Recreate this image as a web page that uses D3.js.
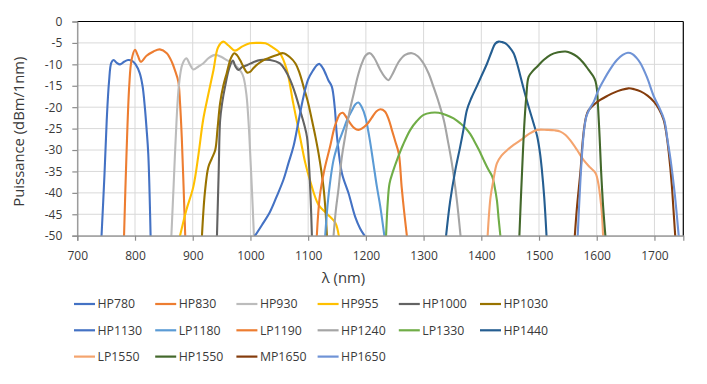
<!DOCTYPE html>
<html><head><meta charset="utf-8">
<script src="https://cdn.jsdelivr.net/npm/d3@7"></script>
<style>
html,body{margin:0;padding:0;background:#fff;}
svg text{font-family:"Segoe UI","Open Sans","Noto Sans",sans-serif;fill:#3A3A3A;}
</style></head>
<body><svg id="chart" width="707" height="384"></svg>
<script>
// ---- data (wavelength nm, power dBm/1nm) ----
const xTicks = [700,800,900,1000,1100,1200,1300,1400,1500,1600,1700];
const yTicks = [0,-5,-10,-15,-20,-25,-30,-35,-40,-45,-50];
const seriesNames = ["HP780","HP830","HP930","HP955","HP1000","HP1030","HP1130","LP1180","LP1190","HP1240","LP1330","HP1440","LP1550","HP1550","MP1650","HP1650"];
const seriesColors = ["#4472C4","#ED7D31","#BCBCBC","#FFC000","#636363","#997300","#4472C4","#5B9BD5","#ED7D31","#A5A5A5","#70AD47","#255E91","#F4A46E","#43682B","#843C0C","#6F93D6"];

const hp780 = [[742,-50],[747,-36],[751,-23],[755,-14],[759,-9.6],[763,-9],[768,-9.6],[774,-10],[781,-9.4],[788,-9],[795,-9.2],[801,-10],[808,-12],[813,-15],[817,-20],[820,-25],[823,-31],[827,-50]];
const hp830 = [[781,-50],[785,-32],[790,-15],[794,-9],[800,-6.6],[805,-8],[810,-9.4],[820,-8],[832,-7],[843,-6.5],[855,-7.4],[864,-9.5],[869,-11.3],[875,-14],[878,-19],[881,-27],[884,-38],[887,-50]];
const hp930 = [[863,-50],[867,-38],[872,-23],[876,-15],[882,-10],[889,-8.6],[895,-10],[901,-11.2],[910,-10.5],[918,-9.8],[928,-8.5],[939,-7.8],[950,-8.3],[959,-9],[968,-9.6],[976,-10.5],[984,-11.8],[988,-13],[993,-17],[996.5,-23],[1000,-32],[1002.5,-39],[1006,-50]];
const hp955 = [[878,-50],[889,-44],[901,-38.6],[910,-31],[918,-23],[927,-17],[936,-11.3],[944,-6],[953,-4.7],[962,-5.6],[973,-6.8],[986,-5.8],[999,-5.1],[1013,-5],[1026,-5.1],[1038,-6],[1051,-7.4],[1063,-11.3],[1074,-19],[1086,-27],[1095,-33],[1103,-37],[1118,-42.8],[1132,-44.8],[1147,-47],[1153,-50]];
const hp1000 = [[942,-50],[945,-35],[947.5,-23],[951,-19],[956,-15.2],[963,-11],[969.5,-9.1],[974,-10.5],[979,-11.3],[986,-10.6],[994,-10.2],[1005,-9.5],[1017,-9],[1034,-9],[1051,-9.8],[1060,-11.3],[1069,-13.7],[1078,-17],[1086,-20.7],[1093,-24],[1098,-27],[1102,-34.7],[1104.5,-42],[1106.5,-50]];
const hp1030 = [[916,-50],[921,-40],[927,-34],[933,-32],[939,-30],[943,-25],[947.5,-19],[953,-15],[959,-12],[966,-8.6],[972,-7.4],[977,-7.9],[982,-9],[988,-10.6],[994,-11.9],[1000,-11.7],[1005,-10.9],[1014,-9.8],[1023,-9],[1034,-8.4],[1046,-7.8],[1057,-7.4],[1068,-8.3],[1078,-9.8],[1085,-12],[1092,-15.2],[1100,-19],[1106.5,-23],[1112,-26.5],[1118,-30.8],[1126.5,-38.6],[1130,-44],[1132.5,-50]];
const hp1130 = [[1008,-50],[1020,-47.5],[1034,-44.4],[1045,-41],[1057,-37],[1066,-33],[1074.5,-29.2],[1083,-23.5],[1092,-17.5],[1100,-13.5],[1109,-11.3],[1115,-10.2],[1119.6,-9.9],[1126,-11],[1135,-13.7],[1141,-15.2],[1146,-20],[1150,-26.9],[1158.5,-35.4],[1170,-40.1],[1181.5,-45.6],[1190,-48.3],[1197.7,-50]];
const lp1180 = [[1129.5,-50],[1135,-41],[1144,-32.3],[1152,-28.5],[1161,-25.3],[1168,-22.8],[1176,-20.7],[1182,-19.3],[1187,-18.9],[1193,-20],[1199,-22.2],[1206,-27],[1213,-33.1],[1219,-38.5],[1225,-43.2],[1232,-50]];
const lp1190 = [[1115,-50],[1120,-41],[1128,-34.7],[1138,-29.2],[1145,-25],[1150,-23],[1155,-21.6],[1160,-21.3],[1166,-22.3],[1173,-23.8],[1180,-24.9],[1187,-25.3],[1194,-24.9],[1202,-24],[1210,-22.5],[1218,-21],[1225,-20.5],[1233,-21],[1240,-23],[1245,-25.3],[1251,-28],[1257,-30.8],[1262,-38.6],[1266,-44],[1271,-50]];
const hp1240 = [[1144,-50],[1148,-44],[1153,-38.6],[1158,-32],[1164,-26.9],[1171,-21.5],[1179,-16.8],[1186,-12.8],[1193,-9.8],[1200,-7.9],[1207,-7.4],[1214,-8.4],[1225,-11.3],[1232,-12.8],[1239,-13.7],[1246,-12.3],[1257,-9.4],[1268,-7.8],[1280,-7.4],[1290,-8.1],[1300,-9.8],[1309,-12.2],[1317,-15.2],[1326,-18.8],[1335,-23],[1342,-27.8],[1349,-33.1],[1357,-41],[1364,-50]];
const lp1330 = [[1235,-50],[1238,-42],[1241,-37.8],[1247,-35],[1254,-32.3],[1265,-28.6],[1277,-25.3],[1288,-23.3],[1300,-21.8],[1313,-21.3],[1326,-21.3],[1339,-21.8],[1352,-22.6],[1364,-23.8],[1373,-24.9],[1381,-26.3],[1387,-27.7],[1396,-30],[1404,-32.3],[1412,-34.5],[1419,-36.2],[1423,-38.5],[1427,-41.7],[1430,-46],[1433,-50]];
const hp1440 = [[1339,-50],[1346,-42],[1355,-34.7],[1363,-29.5],[1369,-25.3],[1375,-20.7],[1383,-17.8],[1392,-15.2],[1401,-12.5],[1410,-9.8],[1418,-7],[1424,-5.2],[1430,-4.7],[1436,-4.8],[1442,-5.1],[1450,-6.2],[1456,-7.4],[1462,-9.8],[1468,-12.9],[1475,-16.5],[1482,-19.9],[1490,-23.5],[1497,-26.9],[1502,-31],[1505,-34.7],[1509,-41],[1513,-50]];
const lp1550 = [[1411,-50],[1416,-41],[1421,-37],[1427,-33.1],[1435,-31.3],[1445,-30],[1456,-28.8],[1468,-27.7],[1482,-26.3],[1497,-25.3],[1514,-25.3],[1527,-25.4],[1537,-25.7],[1546,-26.5],[1554,-27.7],[1566,-30],[1577,-32.3],[1588,-34],[1598,-35.4],[1603,-38],[1606,-40.9],[1609,-45],[1611,-50]];
const hp1550 = [[1466,-50],[1469,-40],[1472,-30.8],[1475,-23],[1478,-17.5],[1482,-12.9],[1489,-11.6],[1497,-10.5],[1508,-9],[1520,-7.8],[1533,-7.2],[1546,-7],[1556,-7.4],[1566,-8.2],[1576,-9.5],[1586,-11.3],[1594,-12.8],[1598,-14],[1600.5,-16],[1602.3,-19.9],[1605,-27],[1607.5,-34.7],[1611,-43],[1615,-50]];
const mp1650 = [[1562,-50],[1566,-43],[1572,-34.7],[1575,-29],[1578.6,-24.5],[1582,-22],[1586,-20.7],[1596,-19.3],[1606,-18.3],[1618,-17.4],[1630,-16.6],[1642,-16],[1655,-15.6],[1665,-15.8],[1676,-16.3],[1688,-17.3],[1699,-18.7],[1708,-20.5],[1716,-23],[1721,-26.5],[1725,-30.8],[1730,-38],[1733,-44],[1736,-50]];
const hp1650 = [[1567,-50],[1571,-39],[1574.6,-30.8],[1578,-25.5],[1582,-22.2],[1588,-20.3],[1595,-18.7],[1603,-16],[1612,-13.7],[1624,-11],[1635,-9],[1645,-7.8],[1654,-7.3],[1662,-7.6],[1669,-8.5],[1676,-9.8],[1687,-13],[1699,-17.5],[1708,-20],[1717,-23],[1723,-28],[1728,-32.3],[1735,-40],[1742,-50]];

const seriesData = [hp780,hp830,hp930,hp955,hp1000,hp1030,hp1130,lp1180,lp1190,hp1240,lp1330,hp1440,lp1550,hp1550,mp1650,hp1650];

// ---- layout ----
const svg = d3.select("#chart");
const pLeft = 77.3, pRight = 683.3, pTop = 21.5, pBottom = 235.7;
const x = d3.scaleLinear().domain([700,1750]).range([pLeft,pRight]);
const y = d3.scaleLinear().domain([-50,0]).range([pBottom,pTop]);
const FONT = '"Segoe UI","Open Sans","Noto Sans",sans-serif';

// gridlines
const g = svg.append("g");
g.selectAll("line.vg").data(xTicks).enter().append("line")
  .attr("x1",d=>x(d)).attr("x2",d=>x(d)).attr("y1",pTop).attr("y2",pBottom)
  .attr("stroke","#D9D9D9").attr("stroke-width",1);
g.selectAll("line.hg").data(yTicks).enter().append("line")
  .attr("x1",pLeft).attr("x2",pRight).attr("y1",d=>y(d)).attr("y2",d=>y(d))
  .attr("stroke","#D9D9D9").attr("stroke-width",1);

// clip
svg.append("clipPath").attr("id","clip").append("rect")
  .attr("x",pLeft).attr("y",pTop-3).attr("width",pRight-pLeft).attr("height",pBottom-pTop+3);

// lines
const line = d3.line().x(d=>x(d[0])).y(d=>y(d[1])).curve(d3.curveCatmullRom.alpha(0.5));
const lg = svg.append("g").attr("clip-path","url(#clip)");
seriesData.forEach((s,i)=>{
  lg.append("path").attr("d",line(s)).attr("fill","none")
    .attr("stroke",seriesColors[i]).attr("stroke-width",2.1)
    .attr("stroke-linejoin","round").attr("stroke-linecap","round");
});

// border top/right
svg.append("line").attr("x1",pLeft).attr("x2",pRight).attr("y1",pTop).attr("y2",pTop).attr("stroke","#000").attr("stroke-width",1.2);
svg.append("line").attr("x1",pRight).attr("x2",pRight).attr("y1",pTop).attr("y2",pBottom).attr("stroke","#000").attr("stroke-width",1.2);

// axes
const xAxis = d3.axisBottom(x).tickValues(xTicks).tickSize(5).tickPadding(11).tickFormat(d3.format("d"));
const yAxis = d3.axisLeft(y).tickValues(yTicks).tickSize(5).tickPadding(10).tickFormat(d=>String(d));
const xa = svg.append("g").attr("transform",`translate(0,${pBottom})`).call(xAxis);
const ya = svg.append("g").attr("transform",`translate(${pLeft},0)`).call(yAxis);
[xa,ya].forEach(a=>{
  a.select(".domain").attr("stroke","#8C8C8C").attr("stroke-width",1.2);
  a.selectAll(".tick line").attr("stroke","#8C8C8C").attr("stroke-width",1.2);
  a.selectAll("text").style("font-size","12px").style("fill","#3A3A3A").style("font-family",FONT);
});

// axis titles
svg.append("text").attr("x",343.5).attr("y",282.5).attr("text-anchor","middle")
  .style("font-size","14.8px").text("λ (nm)");
svg.append("text").attr("transform",`translate(24,${(pTop+pBottom)/2+3}) rotate(-90)`)
  .attr("text-anchor","middle").style("font-size","14.8px").text("Puissance (dBm/1nm)");

// legend
const legX0 = 74, legDX = 81.2, legY0 = 304, legDY = 26.3;
const leg = svg.append("g");
seriesNames.forEach((n,i)=>{
  const c = i%6, r = Math.floor(i/6);
  const lx = legX0 + c*legDX, ly = legY0 + r*legDY;
  leg.append("line").attr("x1",lx).attr("x2",lx+21).attr("y1",ly).attr("y2",ly)
    .attr("stroke",seriesColors[i]).attr("stroke-width",2.2);
  leg.append("text").attr("x",lx+23.5).attr("y",ly+4.4).style("font-size","12.3px").text(n);
});
</script></body></html>
